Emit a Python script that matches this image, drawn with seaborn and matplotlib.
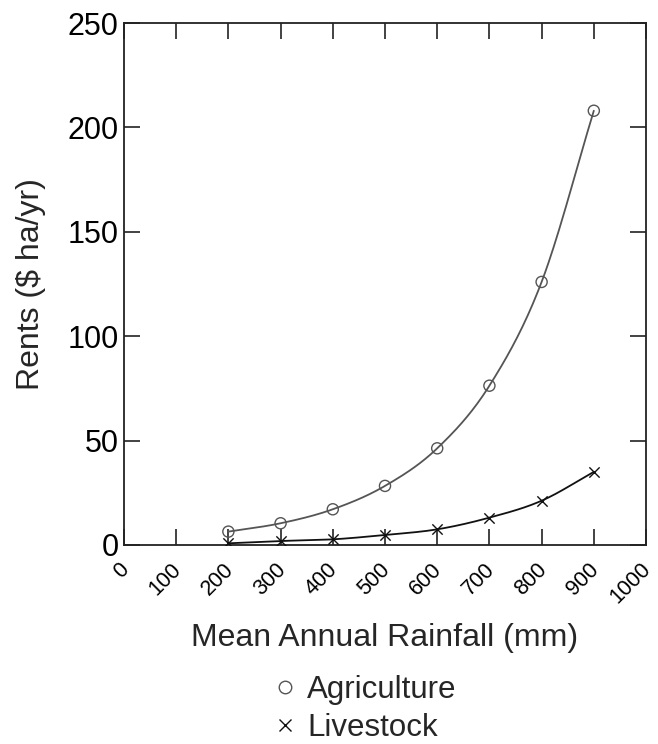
import numpy as np
import pandas as pd
import matplotlib
matplotlib.use("Agg")
import matplotlib.pyplot as plt
import matplotlib.transforms as mtransforms
import seaborn as sns
from matplotlib.lines import Line2D

rainfall = [200, 300, 400, 500, 600, 700, 800, 900]
agriculture = [6.4, 10.4, 17.1, 28.3, 46.3, 76.3, 126.0, 208.0]
livestock = [0.8, 1.9, 2.7, 4.8, 7.5, 13.1, 21.2, 35.0]
x_ticks = [0, 100, 200, 300, 400, 500, 600, 700, 800, 900, 1000]
y_ticks = [0, 50, 100, 150, 200, 250]

sns.set_theme(style="ticks")
plt.rcParams['font.family'] = ['Liberation Sans', 'DejaVu Sans']


def smooth(xs, ys, n=30):
    # Catmull-Rom curve through the data points (rendering only)
    xs = np.asarray(xs, float)
    ys = np.asarray(ys, float)
    px = np.concatenate([[2 * xs[0] - xs[1]], xs, [2 * xs[-1] - xs[-2]]])
    py = np.concatenate([[2 * ys[0] - ys[1]], ys, [2 * ys[-1] - ys[-2]]])
    ox, oy = [], []
    t = np.linspace(0, 1, n, endpoint=False)
    for i in range(1, len(px) - 2):
        for p, o in ((px, ox), (py, oy)):
            p0, p1, p2, p3 = p[i - 1], p[i], p[i + 1], p[i + 2]
            o.extend(0.5 * ((2 * p1) + (-p0 + p2) * t + (2 * p0 - 5 * p1 + 4 * p2 - p3) * t ** 2
                            + (-p0 + 3 * p1 - 3 * p2 + p3) * t ** 3))
    ox.append(xs[-1]); oy.append(ys[-1])
    return np.array(ox), np.array(oy)


fig = plt.figure(figsize=(6.58, 7.44), dpi=100)
ax = fig.add_axes([0.1884, 0.2675, 0.7934, 0.7015])

ag_color = "#555555"
lv_color = "#111111"

sx, sy = smooth(rainfall, agriculture)
sns.lineplot(x=sx, y=sy, ax=ax, color=ag_color, linewidth=1.3, sort=False)
sx, sy = smooth(rainfall, livestock)
sns.lineplot(x=sx, y=sy, ax=ax, color=lv_color, linewidth=1.3, sort=False)

sns.scatterplot(x=rainfall, y=agriculture, ax=ax, marker='o', s=64,
                facecolor='none', edgecolor=ag_color, linewidth=1.0, zorder=5)
sns.scatterplot(x=rainfall, y=livestock, ax=ax, marker='x', s=55,
                color=lv_color, linewidth=1.0, zorder=5)

ax.set_xlim(0, 1000)
ax.set_ylim(0, 250)
ax.set_xticks(x_ticks)
ax.set_yticks(y_ticks)
ax.set_xticklabels([str(v) for v in x_ticks], rotation=45, ha='right',
                   rotation_mode='anchor', fontsize=15.5)
ax.set_yticklabels([str(v) for v in y_ticks], fontsize=22)
ax.tick_params(direction='in', length=11.5, width=1.2, top=True, right=True,
               color='#222222', labelcolor='black')
ax.tick_params(axis='x', pad=10)
ax.tick_params(axis='y', pad=4)
shift = mtransforms.ScaledTranslation(-4 / 72, 0, fig.dpi_scale_trans)
for lab in ax.get_xticklabels():
    lab.set_transform(lab.get_transform() + shift)
for s in ax.spines.values():
    s.set_visible(True)
    s.set_linewidth(1.3)
    s.set_color('#222222')

ax.set_xlabel("Mean Annual Rainfall (mm)", fontsize=23, labelpad=11)
ax.set_ylabel("Rents ($ ha/yr)", fontsize=23, labelpad=15)

handles = [
    Line2D([], [], linestyle='none', marker='o', markersize=9, markerfacecolor='none',
           markeredgecolor=ag_color, markeredgewidth=1.0),
    Line2D([], [], linestyle='none', marker='x', markersize=8, color=lv_color,
           markeredgewidth=1.0),
]
fig.legend(handles, ["Agriculture", "Livestock"], loc='center',
           bbox_to_anchor=(0.5545, 0.047), frameon=False, fontsize=22.5,
           handlelength=0.8, handletextpad=0.3, labelspacing=0.25,
           borderpad=0.2)

fig.savefig("out.png", dpi=100)
